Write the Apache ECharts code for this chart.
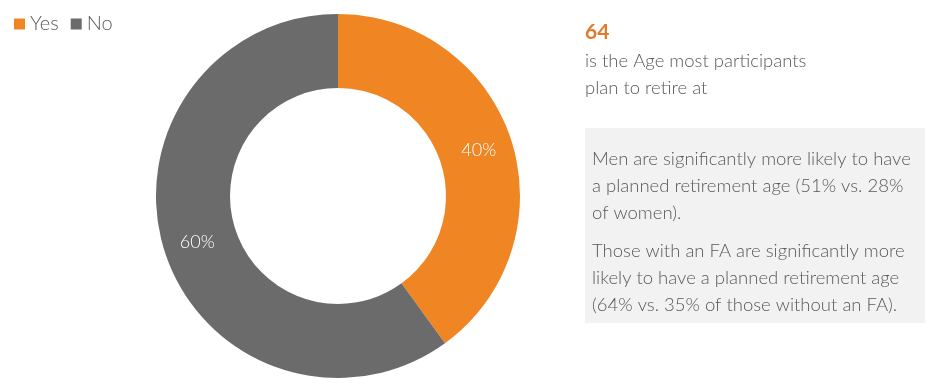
<!DOCTYPE html>
<html>
<head>
<meta charset="utf-8">
<script src="https://cdn.jsdelivr.net/npm/echarts@6/dist/echarts.min.js"></script>
<style>html,body{margin:0;padding:0;background:#fff}#c{width:942px;height:385px}</style>
</head>
<body>
<div id="c"></div>
<script>
var categories = ['Yes', 'No'];
var values = [40, 60];
var colors = ['#F08524', '#6B6B6B'];
var headline = '64';
var headlineLines = ['is the Age most participants', 'plan to retire at'];
var boxPara1 = ['Men are significantly more likely to have', 'a planned retirement age (51% vs. 28%', 'of women).'];
var boxPara2 = ['Those with an FA are significantly more', 'likely to have a planned retirement age', '(64% vs. 35% of those without an FA).'];

var FONT = 'Lato, "Open Sans", sans-serif';
var chart = echarts.init(document.getElementById('c'), null, {renderer: 'canvas'});

function textEl(x, y, str, opts) {
  return {
    type: 'text', left: x, top: y,
    style: Object.assign({text: str, fill: '#595959', font: '300 18.5px ' + FONT}, opts || {})
  };
}
var graphics = [];
graphics.push({type: 'rect', shape: {x: 585, y: 128, width: 340, height: 195}, style: {fill: '#F2F2F2'}});
graphics.push(textEl(585, 22, headline, {fill: '#E07B2E', font: 'bold 21px ' + FONT}));
headlineLines.forEach(function (l, i) { graphics.push(textEl(585, 52 + i * 27, l)); });
boxPara1.forEach(function (l, i) { graphics.push(textEl(592, 150 + i * 27, l)); });
boxPara2.forEach(function (l, i) { graphics.push(textEl(592, 242 + i * 27, l)); });

chart.setOption({
  animation: false,
  color: colors,
  legend: {
    left: 9, top: 9, itemWidth: 11, itemHeight: 11, itemGap: 12, icon: 'rect',
    textStyle: {color: '#595959', fontSize: 20, fontFamily: FONT, fontWeight: 300, padding: [0, 0, 0, 0]},
    data: categories
  },
  graphic: graphics,
  series: [{
    type: 'pie',
    center: [338, 196],
    radius: [108, 182],
    startAngle: 90,
    clockwise: true,
    label: {position: 'inside', formatter: '{c}%', color: '#fff', fontSize: 18, fontFamily: FONT, fontWeight: 300},
    labelLine: {show: false},
    emphasis: {disabled: true},
    itemStyle: {borderWidth: 0},
    data: categories.map(function (c, i) { return {name: c, value: values[i]}; })
  }]
});
</script>
</body>
</html>
